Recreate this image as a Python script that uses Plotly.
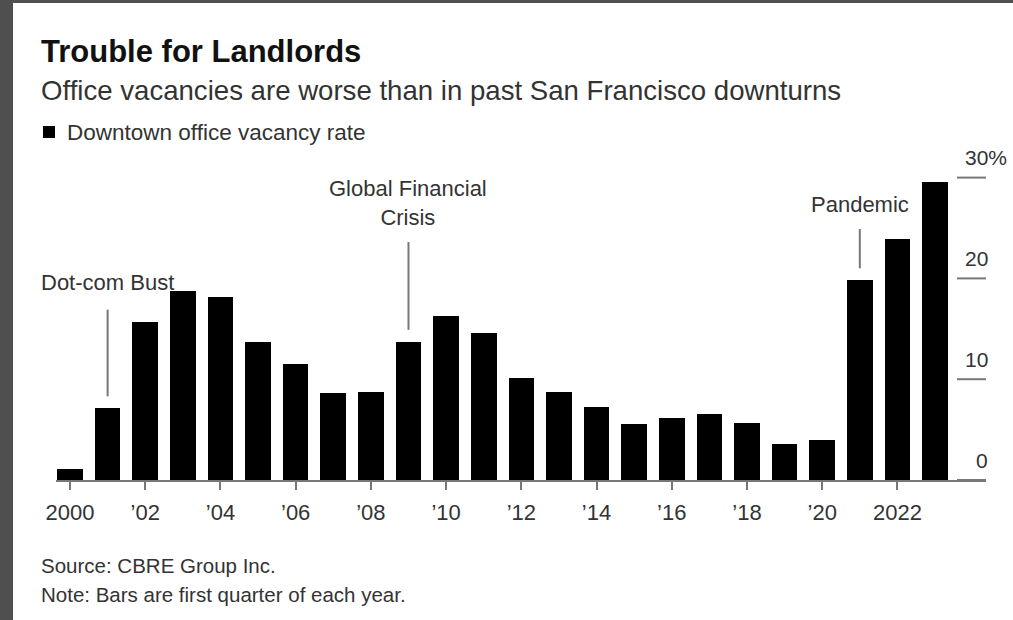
import plotly.graph_objects as go

# Downtown San Francisco office vacancy rate, first quarter of each year (%)
years = list(range(2000, 2024))
vacancy = [1.1, 7.1, 15.7, 18.8, 18.2, 13.7, 11.5, 8.6, 8.7, 13.7, 16.3, 14.6,
           10.1, 8.7, 7.2, 5.6, 6.2, 6.5, 5.7, 3.6, 4.0, 19.8, 23.9, 29.6]

x_tick_vals = list(range(2000, 2023, 2))
x_tick_text = ["2000", "\u201902", "\u201904", "\u201906", "\u201908", "\u201910",
               "\u201912", "\u201914", "\u201916", "\u201918", "\u201920", "2022"]
y_tick_vals = [0, 10, 20, 30]
y_tick_text = ["0", "10", "20", "30%"]

# Event callouts: label, year, label height, top of leader line
events = ["Dot-com Bust", "Global Financial<br>Crisis", "Pandemic"]
event_years = [2001, 2009, 2021]
event_label_y = [19.6, 27.5, 27.3]
event_line_top = [16.9, 23.6, 24.9]

W, H = 1013, 620
L, R, T, B = 56, 27, 140, 140
PW, PH = W - L - R, H - T - B
FONT = "Liberation Sans, Arial, sans-serif"
INK = "#333333"
DIGIT_W = 0.556  # digit advance width in em for the chosen font


def px_x(px):
    return (px - L) / PW


def px_y(py):
    return (H - B - py) / PH


fig = go.Figure()
fig.add_trace(go.Bar(
    x=years, y=vacancy, width=0.68,
    marker=dict(color="#000000", line=dict(width=0)),
    hoverinfo="x+y", showlegend=False,
))

shapes = []
annotations = []

# page frame on the left and top edges
shapes.append(dict(type="rect", xref="paper", yref="paper",
                   x0=px_x(0), x1=px_x(13), y0=px_y(H), y1=px_y(0),
                   fillcolor="#4f4f4f", line=dict(width=0), layer="above"))
shapes.append(dict(type="rect", xref="paper", yref="paper",
                   x0=px_x(0), x1=px_x(W), y0=px_y(3), y1=px_y(0),
                   fillcolor="#4f4f4f", line=dict(width=0), layer="above"))

# right-hand value scale: short rules with labels sitting above them;
# digits are right-aligned, a trailing "%" hangs past the column
YLAB = 21
for v, t in zip(y_tick_vals, y_tick_text):
    shapes.append(dict(type="line", xref="paper", yref="y",
                       x0=px_x(957), x1=1.0, y0=v, y1=v,
                       line=dict(color="#777777", width=2)))
    digits = t.rstrip("%")
    left_px = 987 - len(digits) * DIGIT_W * YLAB
    annotations.append(dict(xref="paper", yref="y", x=px_x(left_px), y=v,
                            text=t, showarrow=False, xanchor="left",
                            yanchor="middle", yshift=20, borderpad=0,
                            font=dict(family=FONT, size=YLAB, color=INK)))

# event callouts with leader lines down toward the bars
for label, yr, ly, top in zip(events, event_years, event_label_y, event_line_top):
    bar = vacancy[years.index(yr)]
    shapes.append(dict(type="line", xref="x", yref="y",
                       x0=yr, x1=yr, y0=bar + 1.2, y1=top,
                       line=dict(color="#777777", width=2)))
    annotations.append(dict(xref="x", yref="y", x=yr, y=ly, text=label,
                            showarrow=False, xanchor="center", yanchor="middle",
                            align="center",
                            font=dict(family=FONT, size=22, color=INK)))

# headline, subtitle, legend key
annotations.append(dict(xref="paper", yref="paper", x=px_x(39), y=px_y(51),
                        text="<b>Trouble for Landlords</b>", showarrow=False,
                        xanchor="left", yanchor="middle",
                        font=dict(family=FONT, size=31, color="#111111")))
annotations.append(dict(xref="paper", yref="paper", x=px_x(39), y=px_y(90),
                        text="Office vacancies are worse than in past San Francisco downturns",
                        showarrow=False, xanchor="left", yanchor="middle",
                        font=dict(family=FONT, size=27.6, color=INK)))
shapes.append(dict(type="rect", xref="paper", yref="paper",
                   x0=px_x(43), x1=px_x(55), y0=px_y(138), y1=px_y(126),
                   fillcolor="#000000", line=dict(width=0)))
annotations.append(dict(xref="paper", yref="paper", x=px_x(65), y=px_y(132),
                        text="Downtown office vacancy rate", showarrow=False,
                        xanchor="left", yanchor="middle",
                        font=dict(family=FONT, size=22.5, color=INK)))

# footnotes
annotations.append(dict(xref="paper", yref="paper", x=px_x(39), y=px_y(565),
                        text="Source: CBRE Group Inc.", showarrow=False,
                        xanchor="left", yanchor="middle",
                        font=dict(family=FONT, size=20.5, color=INK)))
annotations.append(dict(xref="paper", yref="paper", x=px_x(39), y=px_y(594),
                        text="Note: Bars are first quarter of each year.", showarrow=False,
                        xanchor="left", yanchor="middle",
                        font=dict(family=FONT, size=20.5, color=INK)))

fig.update_layout(
    width=W, height=H,
    margin=dict(l=L, r=R, t=T, b=B, pad=0),
    paper_bgcolor="#ffffff", plot_bgcolor="#ffffff",
    bargap=0, showlegend=False,
    shapes=shapes, annotations=annotations,
    xaxis=dict(
        range=[2000 - 14 / 37.61, 2000 + 916 / 37.61],
        tickmode="array", tickvals=x_tick_vals, ticktext=x_tick_text,
        ticks="outside", ticklen=8, tickwidth=1.5, tickcolor="#777777",
        ticklabelstandoff=4,
        showline=True, linecolor="#777777", linewidth=2,
        showgrid=False, zeroline=False, fixedrange=True,
        tickfont=dict(family=FONT, size=22, color=INK),
    ),
    yaxis=dict(
        range=[0, PH / 10.08], visible=False, fixedrange=True,
        showgrid=False, zeroline=False,
    ),
)

fig.write_html("out.html")
